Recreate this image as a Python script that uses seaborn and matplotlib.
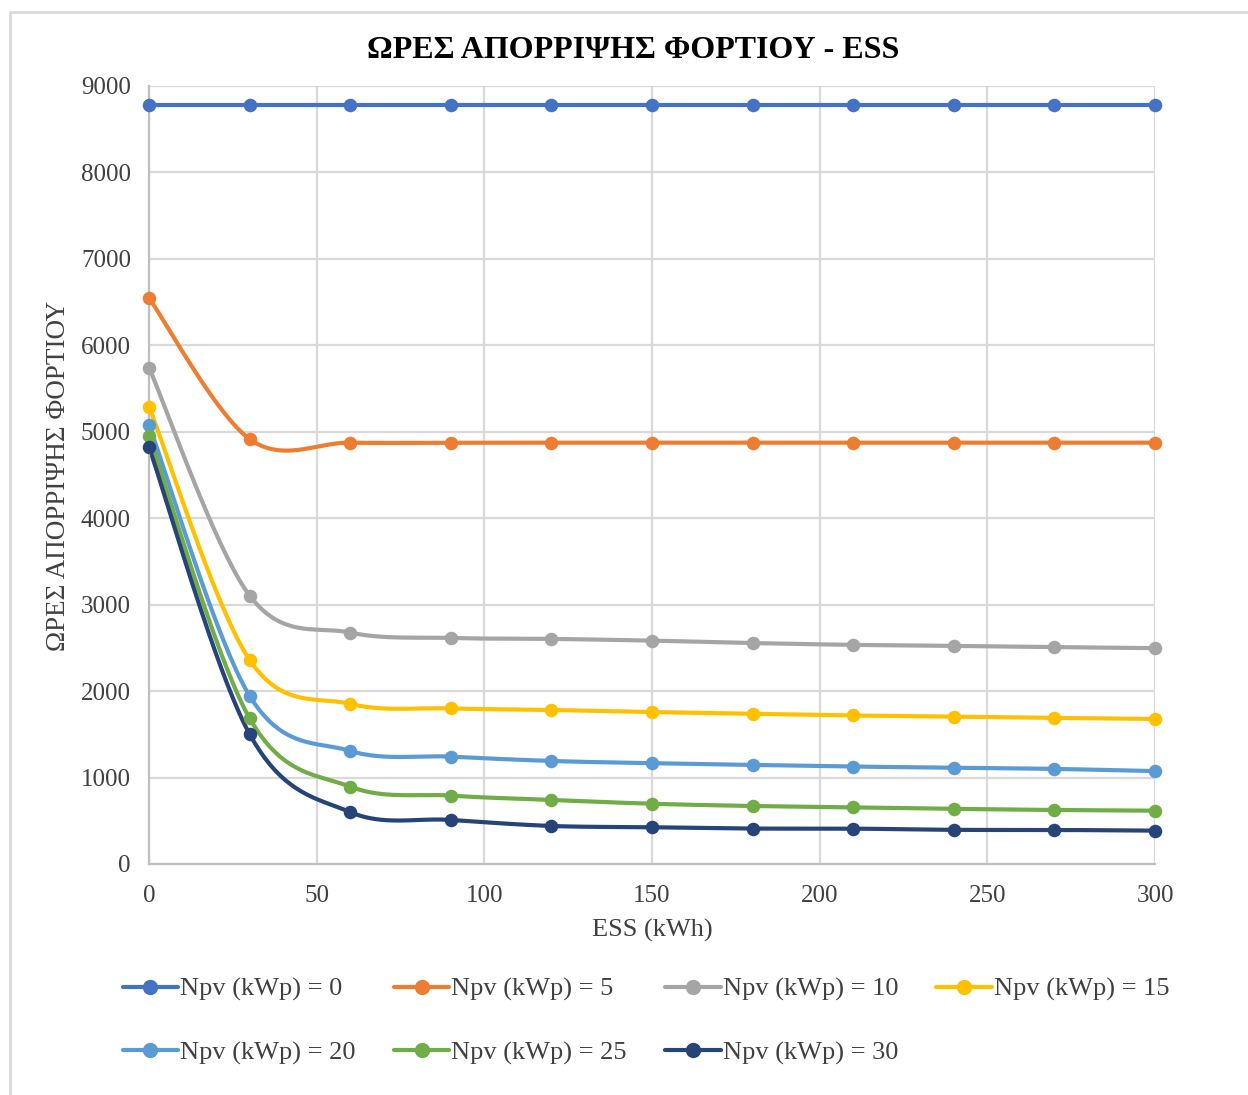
import numpy as np
import pandas as pd
import matplotlib
matplotlib.use("Agg")
import matplotlib.pyplot as plt
from matplotlib.lines import Line2D
import seaborn as sns

# δεδομένα
ess = [0, 30, 60, 90, 120, 150, 180, 210, 240, 270, 300]
npv_labels = ["Npv (kWp) = 0", "Npv (kWp) = 5", "Npv (kWp) = 10", "Npv (kWp) = 15",
              "Npv (kWp) = 20", "Npv (kWp) = 25", "Npv (kWp) = 30"]
npv_0 = [8784, 8784, 8784, 8784, 8784, 8784, 8784, 8784, 8784, 8784, 8784]
npv_5 = [6548, 4916, 4874, 4874, 4874, 4874, 4874, 4874, 4874, 4874, 4874]
npv_10 = [5743, 3105, 2677, 2615, 2604, 2584, 2556, 2535, 2523, 2509, 2497]
npv_15 = [5292, 2361, 1852, 1800, 1782, 1758, 1738, 1718, 1705, 1690, 1678]
npv_20 = [5081, 1945, 1308, 1242, 1192, 1166, 1146, 1127, 1115, 1100, 1075]
npv_25 = [4956, 1686, 895, 791, 741, 697, 671, 656, 638, 625, 617]
npv_30 = [4822, 1502, 600, 510, 440, 425, 410, 409, 395, 394, 386]
series = [npv_0, npv_5, npv_10, npv_15, npv_20, npv_25, npv_30]
colors = ["#4472C4", "#ED7D31", "#A5A5A5", "#FFC000", "#5B9BD5", "#70AD47", "#264478"]


def smooth(x, y, n=40):
    # καμπύλη Bezier όπως η "εξομάλυνση" του Excel
    x = np.asarray(x, float)
    y = np.asarray(y, float)
    p = np.column_stack([x, y])
    ext = np.vstack([p[0], p, p[-1]])
    out = []
    t = np.linspace(0, 1, n)[:, None]
    for i in range(len(p) - 1):
        p0, p3 = p[i], p[i + 1]
        c1 = p0 + (ext[i + 2] - ext[i]) / 6
        c2 = p3 - (ext[i + 3] - ext[i + 1]) / 6
        seg = (1 - t) ** 3 * p0 + 3 * (1 - t) ** 2 * t * c1 + 3 * (1 - t) * t ** 2 * c2 + t ** 3 * p3
        out.append(seg if i == 0 else seg[1:])
    out = np.vstack(out)
    return out[:, 0], out[:, 1]


sns.set_style("white")
plt.rcParams['font.family'] = ['Liberation Serif', 'DejaVu Serif']

fig = plt.figure(figsize=(12.48, 10.95), dpi=100)
ax = fig.add_axes([149 / 1248, 1 - 864 / 1095, (1155 - 149) / 1248, (864 - 86) / 1095])

for lab, vals, col in zip(npv_labels, series, colors):
    sx, sy = smooth(ess, vals)
    sns.lineplot(x=sx, y=sy, ax=ax, color=col, lw=3, sort=False, estimator=None, legend=False)
    ax.lines[-1].set_clip_on(False)
    sns.scatterplot(x=ess, y=vals, ax=ax, color=col, s=95, edgecolor=col, linewidth=0,
                    zorder=3, clip_on=False, legend=False)

ax.set_xlim(0, 300)
ax.set_ylim(0, 9000)
ax.set_xticks(range(0, 301, 50))
ax.set_yticks(range(0, 9001, 1000))
ax.grid(True, color="#d9d9d9", lw=1.6)
ax.set_axisbelow(True)
for s in ["top", "right"]:
    ax.spines[s].set_visible(False)
for s in ["left", "bottom"]:
    ax.spines[s].set_color("#bfbfbf")
    ax.spines[s].set_linewidth(1.6)
ax.tick_params(axis="both", length=0, labelsize=18, colors="#404040")
ax.tick_params(axis="y", pad=13)
ax.tick_params(axis="x", pad=15)
ax.set_xlabel("")
ax.set_ylabel("")

fig.text(652 / 1248, 1 - 930 / 1095, "ESS (kWh)", ha="center", va="center", fontsize=19, color="#404040")
fig.text(59 / 1248, 1 - 476 / 1095, "ΩΡΕΣ ΑΠΟΡΡΙΨΗΣ ΦΟΡΤΙΟΥ", ha="center", va="center",
         rotation=90, fontsize=19.5, color="#404040")
fig.text(633 / 1248, 1 - 50 / 1095, "ΩΡΕΣ ΑΠΟΡΡΙΨΗΣ ΦΟΡΤΙΟΥ - ESS", ha="center", va="center",
         fontsize=23, fontweight="bold", color="black")

# πλαίσιο γραφήματος
fig.add_artist(Line2D([10 / 1248, 1], [1 - 12 / 1095] * 2, color="#d9d9d9", lw=2))
fig.add_artist(Line2D([10 / 1248] * 2, [0, 1 - 12 / 1095], color="#d9d9d9", lw=2))

# υπόμνημα ανά γραμμή (το matplotlib γεμίζει κατά στήλη)
order = [0, 4, 1, 5, 2, 6, 3]
handles = [Line2D([0], [0], color=colors[i], lw=3, marker="o", markersize=10) for i in order]
labels = [npv_labels[i] for i in order]
fig.legend(handles, labels, ncol=4, loc="center", bbox_to_anchor=(0.5176, 1 - 1021 / 1095),
           frameon=False, fontsize=19, handlelength=2.1, handletextpad=0.08,
           columnspacing=1.45, labelspacing=1.5, labelcolor="#404040")

fig.savefig("out.png", dpi=100)
